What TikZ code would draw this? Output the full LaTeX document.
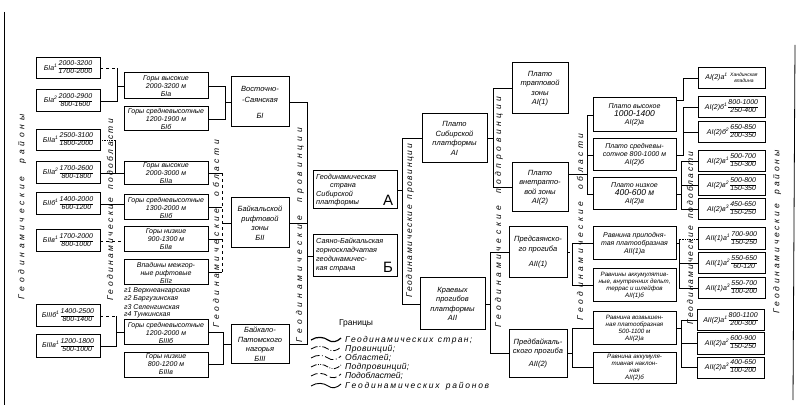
\documentclass[tikz,border=0pt]{standalone}
\usepackage{fontspec}
\setmainfont{Liberation Sans}
\usetikzlibrary{calc}
\ExplSyntaxOn
\seq_new:N \l__my_words_seq
\NewDocumentCommand \spreadtext { m m }
  {
    \seq_set_split:Nnn \l__my_words_seq { ~ } { #2 }
    \hbox_to_wd:nn { #1 }
      {
        \seq_map_indexed_inline:Nn \l__my_words_seq
          {
            \int_compare:nNnT { ##1 } > { 1 } { \skip_horizontal:n { 0pt plus 2.5fil } }
            \tl_map_inline:nn { ##2 } { ####1 \skip_horizontal:n { 0pt plus 1fil } }
          }
        \unskip
      }
  }
\ExplSyntaxOff
\newcommand\myfr[2]{$\vcenter{\offinterlineskip\halign{\hfil##\hfil\cr\strut #1\cr\noalign{\vskip0.3pt\hrule height0.5pt\vskip0.3pt}\strut #2\cr}}$}
\newcommand\bx[7][]{\node[bx,minimum width={(#5-#3)*1pt},minimum height={(#6-#4)*1pt},#1] (#2) at ({(#3+#5)/2},{(#4+#6)/2}) {#7};}
\newcommand\lgline[2]{\draw[lgline,#2] (311,#1) .. controls (317,#1-4) and (324,#1-3) .. (328,#1) .. controls (332,#1+3) and (337,#1+2) .. (341,#1-2);}
\tikzset{
  bx/.style={draw, line width=1pt, inner sep=1pt, outer sep=0pt, align=center,
             font=\fontsize{7}{8}\selectfont\itshape},
  pbx/.style={font=\fontsize{7.5}{9.5}\selectfont\itshape},
  sbx/.style={font=\fontsize{6.2}{7.2}\selectfont\itshape},
  fbx/.style={font=\fontsize{7}{7}\selectfont\itshape},
  ln/.style={line width=0.75pt},
  vlab/.style={rotate=90, inner sep=0pt, font=\fontsize{8.5}{8.5}\selectfont\itshape},
  lg/.style={anchor=west, inner sep=0pt, font=\fontsize{8.5}{8.5}\selectfont\itshape},
  lst/.style={anchor=west, inner sep=0pt, font=\fontsize{7}{7}\selectfont\itshape},
  lgline/.style={line width=0.8pt},
  bigl/.style={inner sep=0pt, font=\fontsize{15}{15}\selectfont},
}
\begin{document}
\begin{tikzpicture}[x=1pt,y=-1pt]
\useasboundingbox (0,0) rectangle (800,411);
% frame
\draw[line width=0.8pt] (4,12) -- (4,405);
\draw[line width=0.8pt] (795,45) -- (793,400);

% left column: districts
\bx[fbx]{b1}{36}{58}{100}{79}{БIа\textsuperscript{1}\,\myfr{2000-3200}{1700-2000}}
\bx[fbx]{b2}{36}{90}{100}{112}{БIа\textsuperscript{2}\,\myfr{2000-2900}{800-1600}}
\bx[fbx]{b3}{36}{130}{100}{151}{БIIа\textsuperscript{1}\,\myfr{2500-3100}{1800-2000}}
\bx[fbx]{b4}{36}{162}{100}{184}{БIIа\textsuperscript{2}\,\myfr{1700-2600}{800-1800}}
\bx[fbx]{b5}{36}{193}{100}{215}{БIIб\textsuperscript{1}\,\myfr{1400-2000}{600-1200}}
\bx[fbx]{b6}{36}{230}{100}{252}{БIIв\textsuperscript{1}\,\myfr{1700-2000}{800-1000}}
\bx[fbx]{b7}{36}{305}{100}{327}{БIIIб\textsuperscript{1}\,\myfr{1400-2500}{800-1400}}
\bx[fbx]{b8}{36}{335}{100}{357}{БIIIв\textsuperscript{1}\,\myfr{1200-1800}{500-1000}}

% second column: subregions
\bx{c1}{124}{73}{208}{99}{Горы высокие\\2000-3200 м\\БIа}
\bx{c2}{124}{107}{208}{131}{Горы средневысотные\\1200-1900 м\\БIб}
\bx{c3}{124}{162}{208}{185}{Горы высокие\\2000-3000 м\\БIIа}
\bx{c4}{124}{195}{208}{220}{Горы средневысотные\\1300-2000 м\\БIIб}
\bx{c5}{124}{227}{208}{252}{Горы низкие\\900-1300 м\\БIIв}
\bx{c6}{124}{260}{208}{285}{Впадины межгор-\\ные рифтовые\\БIIг}
\node[lst] (gl1) at (124,291) {г1 Верхнеангарская};
\node[lst] (gl2) at (124,299) {г2 Баргузинская};
\node[lst] (gl3) at (124,307) {г3 Селенгинская};
\node[lst] (gl4) at (124,315) {г4 Тункинская};
\bx{c7}{124}{320}{208}{345}{Горы средневысотные\\1200-2000 м\\БIIIб}
\bx{c8}{124}{352}{208}{377}{Горы низкие\\800-1200 м\\БIIIв}

% third column: regions
\bx[pbx]{p1}{231}{77}{289}{127}{Восточно-\\[2pt]-Саянская\\[6pt]БI}
\bx[pbx]{p2}{231}{198}{289}{248}{Байкальской\\рифтовой\\зоны\\БII}
\bx[pbx]{p3}{231}{325}{289}{363}{Байкало-\\Патомского\\нагорья\\БIII}

% countries
\bx{ca}{313}{171}{397}{209}{}
\node[anchor=north west, align=left, inner sep=0pt, font=\fontsize{7.3}{8.5}\selectfont\itshape] (catext) at (316,174)
  {Геодинамическая\\\hspace{14pt}страна\\Сибирской\\платформы};
\node[bigl] (caletter) at (388,200) {А};
\bx{cb}{313}{235}{397}{277}{}
\node[anchor=north west, align=left, inner sep=0pt, font=\fontsize{7.3}{9}\selectfont\itshape] (cbtext) at (316,238)
  {Саяно-Байкальская\\горноскладчатая\\геодинамичес-\\кая страна};
\node[bigl] (cbletter) at (388,267) {Б};

% provinces of A
\bx[pbx]{ai}{422}{114}{487}{163}{Плато\\Сибирской\\платформы\\АI}
\bx[pbx]{aii}{420}{278}{485}{330}{Краевых\\прогибов\\платформы\\АII}
% subprovinces
\bx[pbx]{ai1}{512}{63}{568}{114}{Плато\\трапповой\\зоны\\АI(1)}
\bx[pbx]{ai2}{512}{163}{568}{212}{Плато\\внетраппо-\\вой зоны\\АI(2)}
\bx[pbx]{aii1}{509}{227}{567}{278}{Предсаянско-\\го прогиба\\[6pt]АII(1)}
\bx[pbx]{aii2}{509}{330}{567}{377}{Предбайкаль-\\ского прогиба\\[3pt]АII(2)}

% regions of A
\bx{d1}{593}{98}{676}{132}{Плато высокое\\{\fontsize{8.5}{9.5}\selectfont 1000-1400}\\АI(2)а}
\bx{d2}{593}{139}{676}{171}{Плато средневы-\\сотное 800-1000 м\\АI(2)б}
\bx{d3}{593}{178}{676}{210}{Плато низкое\\{\fontsize{8.5}{9.5}\selectfont 400-600 м}\\АI(2)в}
\bx{d4}{593}{227}{676}{260}{Равнина приподня-\\тая платообразная\\АII(1)а}
\bx[sbx]{d5}{593}{269}{676}{302}{Равнины аккумулятив-\\ные, внутренних дельт,\\террас и шлейфов\\АII(1)б}
\bx[sbx]{d6}{593}{312}{676}{345}{Равнина возвышен-\\ная платообразная\\500-1100 м\\АII(2)а}
\bx[sbx]{d7}{593}{352}{676}{383}{Равнина аккумуля-\\тивная наклон-\\ная\\АII(2)б}

% districts of A
\bx[fbx]{r1}{698}{68}{765}{89}{АI(2)а\textsuperscript{1}\hspace{2.5pt}{\fontsize{5}{5.8}\selectfont\begin{tabular}{@{}c@{}}Хандинская\\впадина\end{tabular}}}
\bx[fbx]{r2}{698}{97}{765}{118}{АI(2)б\textsuperscript{1}\,\myfr{800-1000}{250-400}}
\bx[fbx]{r3}{698}{122}{765}{143}{АI(2)б\textsuperscript{2}\,\myfr{650-850}{200-350}}
\bx[fbx]{r4}{698}{151}{765}{172}{АI(2)в\textsuperscript{1}\,\myfr{500-700}{150-300}}
\bx[fbx]{r5}{698}{175}{765}{196}{АI(2)в\textsuperscript{2}\,\myfr{500-800}{150-350}}
\bx[fbx]{r6}{698}{199}{765}{220}{АI(2)в\textsuperscript{3}\,\myfr{450-650}{150-250}}
\bx[fbx]{r7}{698}{228}{765}{250}{АII(1)а\textsuperscript{1}\,\myfr{700-900}{150-250}}
\bx[fbx]{r8}{698}{253}{765}{274}{АII(1)а\textsuperscript{2}\,\myfr{550-650}{60-120}}
\bx[fbx]{r9}{698}{278}{765}{299}{АII(1)а\textsuperscript{3}\,\myfr{550-700}{100-200}}
\bx[fbx]{r10}{697}{310}{764}{331}{АII(2)а\textsuperscript{1}\,\myfr{800-1100}{200-300}}
\bx[fbx]{r11}{697}{333}{764}{354}{АII(2)а\textsuperscript{2}\,\myfr{600-900}{150-250}}
\bx[fbx]{r12}{697}{357}{764}{378}{АII(2)а\textsuperscript{3}\,\myfr{400-650}{100-200}}

% bus coordinates
\coordinate (bg1) at (117,0);
\coordinate (bg2) at (115,0);
\coordinate (bg5) at (116,0);
\coordinate (bh1) at (225,0);
\coordinate (bh2) at (222,0);
\coordinate (bh3) at (223,0);
\coordinate (bk) at (307,0);
\coordinate (bm) at (402,0);
\coordinate (bn1) at (493,0);
\coordinate (bn2) at (490,0);
\coordinate (bq1) at (587,0);
\coordinate (bq2) at (572,0);
\coordinate (bq3) at (572,0);
\coordinate (bs1) at (683,0);
\coordinate (bs2) at (683,0);
\coordinate (bs3) at (681,0);
\coordinate (bs4) at (679,0);
\coordinate (bs5) at (681,0);

% connectors: districts -> subregions
\draw[ln,dashed] (b1.east) -- (b1.east -| bg1);
\draw[ln] (b1.east -| bg1) -- (b2.east -| bg1) -- (b2.east);
\draw[ln] (c1.west) -- (c1.west -| bg1);
\draw[ln,densely dotted] (b3.east) -- (b3.east -| bg2);
\draw[ln] (b3.east -| bg2) -- (b4.east -| bg2) -- (b4.east);
\draw[ln] (c3.west) -- (c3.west -| bg2);
\draw[ln] (b5.east) -- (b5.east -| c4.west);
\draw[ln,dashed] (b6.east) -- (b6.east -| c5.west);
\draw[ln,dashed] (b7.east) -- (b7.east -| bg5);
\draw[ln] (b7.east -| bg5) -- (b8.east -| bg5) -- (b8.east);
\draw[ln] (c7.west) -- (c7.west -| bg5);

% subregions -> regions
\draw[ln] (c1.east) -- (c1.east -| bh1) -- (c2.east -| bh1) -- (c2.east);
\draw[ln] (p1.west) -- (p1.west -| bh1);
\draw[ln] (c3.east) -- (c3.east -| bh2);
\draw[ln,dashed] (c3.east -| bh2) -- (c6.east -| bh2);
\draw[ln] (c6.east -| bh2) -- (c6.east);
\draw[ln] (c4.east) -- (c4.east -| bh2);
\draw[ln] (c5.east) -- (c5.east -| bh2);
\draw[ln] (p2.west) -- (p2.west -| bh2);
\draw[ln] (c7.east) -- (c7.east -| bh3) -- (c8.east -| bh3) -- (c8.east);
\draw[ln] (p3.west) -- (p3.west -| bh3);

% regions -> country B
\draw[ln] (p1.east) -- (p1.east -| bk) -- (p3.east -| bk) -- (p3.east);
\draw[ln] (p2.east) -- (p2.east -| bk);
\draw[ln] (cb.west) -- (cb.west -| bk);

% country A -> provinces
\draw[ln] (ai.west) -- (ai.west -| bm) -- (aii.west -| bm) -- (aii.west);
\draw[ln] (ca.east) -- (ca.east -| bm);

% provinces -> subprovinces
\draw[ln] (ai1.west) -- (ai1.west -| bn1) -- (ai2.west -| bn1) -- (ai2.west);
\draw[ln] (ai.east) -- (ai.east -| bn1);
\draw[ln] (aii1.west) -- (aii1.west -| bn2) -- (aii2.west -| bn2) -- (aii2.west);
\draw[ln] (aii.east) -- (aii.east -| bn2);

% subprovinces -> regions
\draw[ln] (d1.west) -- (d1.west -| bq1) -- (d3.west -| bq1) -- (d3.west);
\draw[ln] (d2.west) -- (d2.west -| bq1);
\draw[ln] (ai2.25) -- (ai2.25 -| bq1);
\draw[ln,dashed] (aii1.east) -- (aii1.east -| bq2);
\draw[ln] (d4.west) -- (d4.west -| bq2) -- (d5.west -| bq2) -- (d5.west);
\draw[ln] (d6.west) -- (d6.west -| bq3) -- (d7.west -| bq3) -- (d7.west);
\draw[ln] (aii2.east) -- (aii2.east -| bq3);

% regions -> districts
\draw[ln] (d1.20) -- (d1.20 -| bs1) |- (r1.west);
\draw[ln] (r2.west) -- (r2.west -| bs2) -- (d2.east -| bs2) -- (d2.east);
\draw[ln] (r3.west) -- (r3.west -| bs2);
\draw[ln] (r4.west) -- (r4.west -| bs3) -- (r6.west -| bs3) -- (r6.west);
\draw[ln] (r5.west) -- (r5.west -| bs3);
\draw[ln] (d3.east) -- (d3.east -| bs3);
\draw[ln,densely dotted] (r7.west) -- (r7.west -| bs4);
\draw[ln] (r7.west -| bs4) -- (r9.west -| bs4) -- (r9.west);
\draw[ln] (r8.west) -- (r8.west -| bs4);
\draw[ln] (d4.east) -- (d4.east -| bs4);
\draw[ln] (r10.west) -- (r10.west -| bs5) -- (r12.west -| bs5) -- (r12.west);
\draw[ln] (r11.west) -- (r11.west -| bs5);
\draw[ln] (d6.east) -- (d6.east -| bs5);

% vertical labels
\node[vlab] (v1) at (22,207) {\spreadtext{185pt}{Геодинамические районы}};
\node[vlab] (v2) at (110,210) {\spreadtext{182pt}{Геодинамические подобласти}};
\node[vlab] (v3) at (216,234) {\spreadtext{188pt}{Геодинамические области}};
\node[vlab] (v4) at (300,235) {\spreadtext{214pt}{Геодинамические провинции}};
\node[vlab] (v5) at (410,221) {\spreadtext{154pt}{Геодинамические провинции}};
\node[vlab] (v6) at (499,212) {\spreadtext{231pt}{Геодинамические подпровинции}};
\node[vlab] (v7) at (580,227) {\spreadtext{187pt}{Геодинамические области}};
\node[vlab] (v8) at (690,238) {\spreadtext{173pt}{Геодинамические подобласти}};
\node[vlab] (v9) at (777,232) {\spreadtext{163pt}{Геодинамические районы}};

% legend
\node[inner sep=0pt, font=\fontsize{8.5}{8.5}\selectfont] (lgt) at (356,323) {Границы};
\lgline{340}{line width=1.2pt}
\lgline{349}{dash pattern=on 7pt off 2pt on 0.8pt off 2pt}
\lgline{358}{dash pattern=on 9pt off 2.5pt on 0.8pt off 2.5pt}
\lgline{367}{dash pattern=on 6pt off 1.5pt on 0.8pt off 1.5pt on 0.8pt off 1.5pt}
\lgline{376}{dash pattern=on 7pt off 3pt}
\lgline{386}{line width=0.9pt}
\node[lg] (lg1) at (345,340) {\spreadtext{127pt}{Геодинамических стран;}};
\node[lg] (lg2) at (345,349) {\spreadtext{50pt}{Провинций;}};
\node[lg] (lg3) at (345,358) {\spreadtext{46pt}{Областей;}};
\node[lg] (lg4) at (345,367) {\spreadtext{64pt}{Подпровинций;}};
\node[lg] (lg5) at (345,376) {\spreadtext{56pt}{Подобластей;}};
\node[lg] (lg6) at (345,386) {\spreadtext{144pt}{Геодинамических районов}};
\end{tikzpicture}
\end{document}
